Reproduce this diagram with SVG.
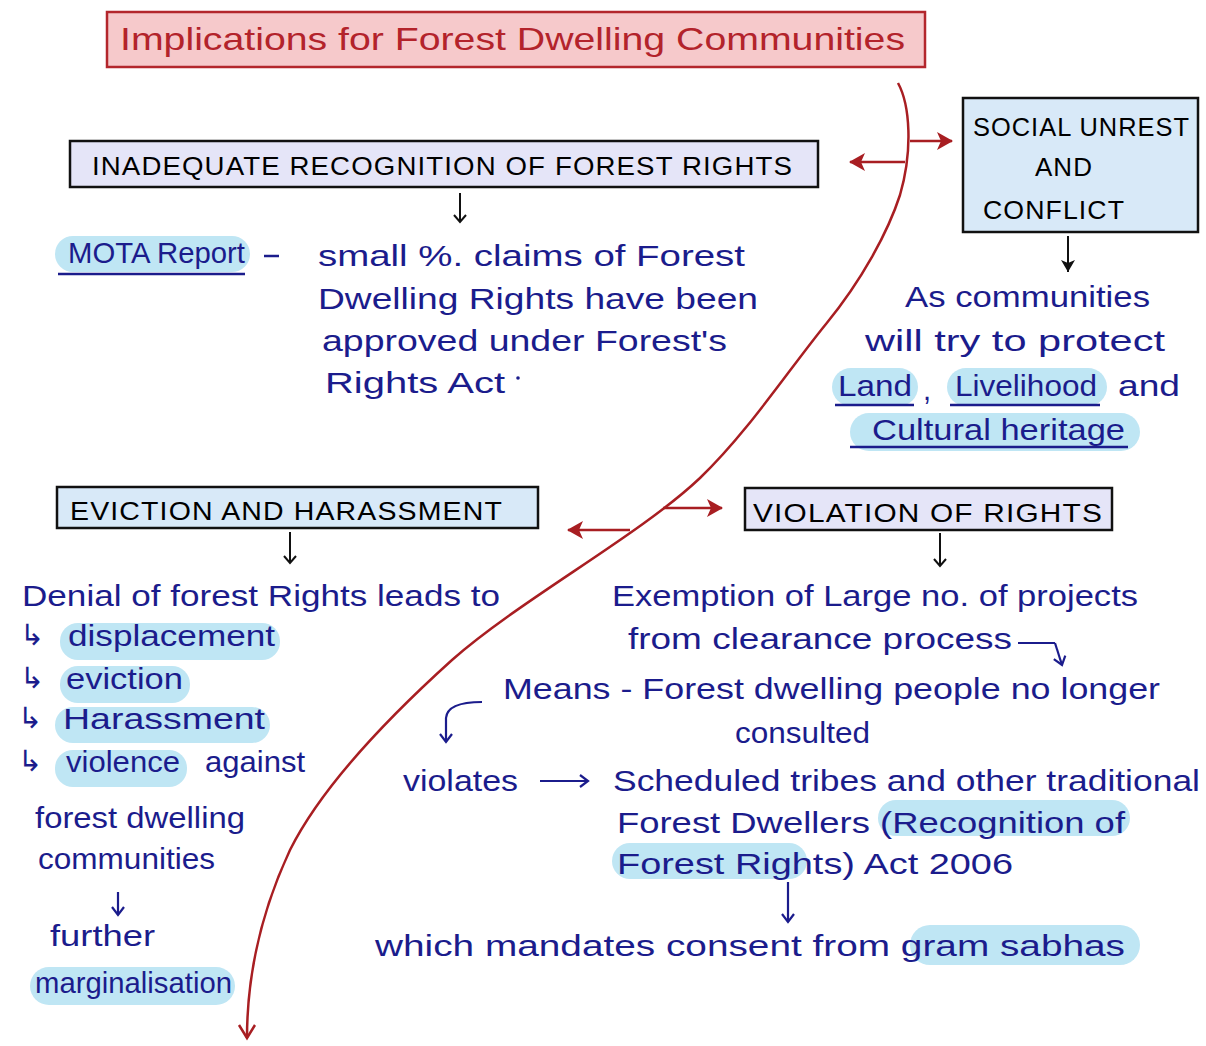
<svg xmlns="http://www.w3.org/2000/svg" width="1206" height="1046" viewBox="0 0 1206 1046">
  <style>
    .hdr { fill: #000; font-family: "Liberation Sans", "DejaVu Sans", sans-serif; font-size: 25px; letter-spacing: 1px; }
    .note { fill: #1b1c8c; font-family: "Liberation Sans", "DejaVu Sans", sans-serif; font-size: 29px; }
    .hl { fill: #bfe6f4; }
    .ul { stroke: #1b1c8c; stroke-width: 2.5; fill: none; }
    .blk { stroke: #111; stroke-width: 2; fill: none; }
    .ink { stroke: #1b1c8c; stroke-width: 2.2; fill: none; }
    .red { stroke: #a81e22; stroke-width: 2.5; fill: none; }
    .box { stroke: #111; stroke-width: 2.5; }
  </style>
  <defs>
    <!-- all arrowheads are drawn pointing along +x -->
    <marker id="vBlack" viewBox="0 0 14 14" refX="12" refY="7" markerWidth="14" markerHeight="14" markerUnits="userSpaceOnUse" orient="auto">
      <path d="M5,1 L12,7 L5,13" fill="none" stroke="#111" stroke-width="2"/>
    </marker>
    <marker id="vInk" viewBox="0 0 14 14" refX="12" refY="7" markerWidth="14" markerHeight="14" markerUnits="userSpaceOnUse" orient="auto">
      <path d="M4,1 L12,7 L4,13" fill="none" stroke="#1b1c8c" stroke-width="2.2"/>
    </marker>
    <marker id="vRed" viewBox="0 0 24 24" refX="20" refY="12" markerWidth="24" markerHeight="24" markerUnits="userSpaceOnUse" orient="auto">
      <path d="M7,4 L20,12 L7,20" fill="none" stroke="#a81e22" stroke-width="2.5"/>
    </marker>
    <marker id="redHead" viewBox="0 0 20 20" refX="17" refY="10" markerWidth="20" markerHeight="20" markerUnits="userSpaceOnUse" orient="auto">
      <path d="M2,1 L18,10 L2,19 L6,10 Z" fill="#a81e22"/>
    </marker>
    <marker id="blackHead" viewBox="0 0 16 16" refX="14" refY="8" markerWidth="16" markerHeight="16" markerUnits="userSpaceOnUse" orient="auto">
      <path d="M2,1 L14,8 L2,15 L5,8 Z" fill="#111"/>
    </marker>
  </defs>

  <rect width="1206" height="1046" fill="#ffffff"/>

  <!-- Title -->
  <g id="title">
    <rect x="107" y="12" width="818" height="55" fill="#f6c9cb" stroke="#b3262c" stroke-width="2.5"/>
    <text x="120" y="50" textLength="785" lengthAdjust="spacingAndGlyphs" fill="#b3232b" font-family="Liberation Sans, DejaVu Sans, sans-serif" font-size="32">Implications for Forest Dwelling Communities</text>
  </g>

  <!-- Connectors -->
  <g id="connectors">
    <!-- main red spine -->
    <path class="red" marker-end="url(#vRed)" d="M898,83 C910,105 913,150 900,195 C888,232 862,280 826,324 C790,368 748,432 700,478 C640,535 520,600 452,660 C380,725 320,790 290,850 C262,910 247,970 247,1038"/>
    <!-- branches off the spine -->
    <path class="red" marker-end="url(#redHead)" d="M910,141 L952,141"/>
    <path class="red" marker-end="url(#redHead)" d="M905,162 L850,162"/>
    <path class="red" marker-end="url(#redHead)" d="M663,508 L722,508"/>
    <path class="red" marker-end="url(#redHead)" d="M630,530 L568,530"/>

    <!-- header down arrows -->
    <path class="blk" marker-end="url(#vBlack)" d="M460,193 L460,222"/>
    <path class="blk" stroke-width="2.5" marker-end="url(#blackHead)" d="M1068,236 L1068,272"/>
    <path class="blk" marker-end="url(#vBlack)" d="M290,532 L290,563"/>
    <path class="blk" marker-end="url(#vBlack)" d="M940,533 L940,566"/>

    <!-- note arrows -->
    <path class="ink" marker-end="url(#vInk)" d="M118,892 L118,915"/>
    <path class="ink" marker-end="url(#vInk)" d="M788,882 L788,922"/>
    <path class="ink" d="M1018,643 L1055,643"/>
    <path class="ink" marker-end="url(#vInk)" d="M1055,643 L1062,665"/>
    <path class="ink" marker-end="url(#vInk)" d="M482,702 C465,702 447,705 446,718 L446,742"/>
    <path class="ink" marker-end="url(#vInk)" d="M540,781 L588,781"/>
  </g>

  <!-- Inadequate recognition -->
  <g id="inadequate-recognition">
    <rect class="box" x="70" y="141" width="748" height="46" fill="#e5e5f8"/>
    <text class="hdr" x="92" y="175" textLength="701" lengthAdjust="spacingAndGlyphs">INADEQUATE RECOGNITION OF FOREST RIGHTS</text>
  </g>

  <g id="mota-report">
    <rect class="hl" x="55" y="236" width="195" height="36" rx="18"/>
    <text class="note" x="68" y="263" font-size="26" textLength="177" lengthAdjust="spacingAndGlyphs">MOTA Report</text>
    <path class="ul" d="M58,274 L245,274"/>
    <path class="ul" d="M264,256 L279,256"/>
    <text class="note" x="318" y="266" textLength="427" lengthAdjust="spacingAndGlyphs">small %. claims of Forest</text>
    <text class="note" x="318" y="309" textLength="440" lengthAdjust="spacingAndGlyphs">Dwelling Rights have been</text>
    <text class="note" x="322" y="351" textLength="405" lengthAdjust="spacingAndGlyphs">approved under Forest's</text>
    <text class="note" x="325" y="393" textLength="180" lengthAdjust="spacingAndGlyphs">Rights Act</text>
    <circle cx="518" cy="378" r="1.8" fill="#1b1c8c"/>
  </g>

  <!-- Social unrest -->
  <g id="social-unrest">
    <rect class="box" x="963" y="98" width="235" height="134" fill="#d8e9f8"/>
    <text class="hdr" x="973" y="136" textLength="217" lengthAdjust="spacingAndGlyphs">SOCIAL UNREST</text>
    <text class="hdr" x="1035" y="176" textLength="58" lengthAdjust="spacingAndGlyphs">AND</text>
    <text class="hdr" x="983" y="219" textLength="142" lengthAdjust="spacingAndGlyphs">CONFLICT</text>
  </g>

  <g id="social-unrest-note">
    <rect class="hl" x="832" y="368" width="86" height="38" rx="19"/>
    <rect class="hl" x="947" y="368" width="160" height="38" rx="19"/>
    <rect class="hl" x="850" y="413" width="290" height="38" rx="19"/>
    <text class="note" x="905" y="307" textLength="245" lengthAdjust="spacingAndGlyphs">As communities</text>
    <text class="note" x="865" y="351" textLength="300" lengthAdjust="spacingAndGlyphs">will try to protect</text>
    <text class="note" x="838" y="396" textLength="74" lengthAdjust="spacingAndGlyphs">Land</text>
    <text class="note" x="923" y="400">,</text>
    <text class="note" x="955" y="396" textLength="142" lengthAdjust="spacingAndGlyphs">Livelihood</text>
    <text class="note" x="1118" y="396" textLength="62" lengthAdjust="spacingAndGlyphs">and</text>
    <text class="note" x="872" y="440" textLength="253" lengthAdjust="spacingAndGlyphs">Cultural heritage</text>
    <path class="ul" d="M835,405 L914,405"/>
    <path class="ul" d="M950,405 L1100,405"/>
    <path class="ul" d="M850,447 L1128,447"/>
  </g>

  <!-- Eviction and harassment -->
  <g id="eviction-harassment">
    <rect class="box" x="57" y="487" width="481" height="41" fill="#d8e9f8"/>
    <text class="hdr" x="70" y="520" font-size="24" textLength="433" lengthAdjust="spacingAndGlyphs">EVICTION AND HARASSMENT</text>
  </g>

  <g id="eviction-note">
    <rect class="hl" x="60" y="623" width="220" height="37" rx="18"/>
    <rect class="hl" x="60" y="666" width="130" height="37" rx="18"/>
    <rect class="hl" x="55" y="707" width="215" height="36" rx="18"/>
    <rect class="hl" x="55" y="750" width="132" height="37" rx="18"/>
    <rect class="hl" x="30" y="967" width="205" height="38" rx="19"/>
    <text class="note" x="22" y="606" textLength="478" lengthAdjust="spacingAndGlyphs">Denial of forest Rights leads to</text>
    <text class="note" x="20" y="645" font-family="DejaVu Sans, sans-serif" font-size="24">↳</text>
    <text class="note" x="68" y="646" textLength="207" lengthAdjust="spacingAndGlyphs">displacement</text>
    <text class="note" x="20" y="688" font-family="DejaVu Sans, sans-serif" font-size="24">↳</text>
    <text class="note" x="66" y="689" textLength="117" lengthAdjust="spacingAndGlyphs">eviction</text>
    <text class="note" x="18" y="728" font-family="DejaVu Sans, sans-serif" font-size="22">↳</text>
    <text class="note" x="63" y="729" textLength="202" lengthAdjust="spacingAndGlyphs">Harassment</text>
    <text class="note" x="18" y="771" font-family="DejaVu Sans, sans-serif" font-size="22">↳</text>
    <text class="note" x="66" y="772" textLength="114" lengthAdjust="spacingAndGlyphs">violence</text>
    <text class="note" x="205" y="772" textLength="100" lengthAdjust="spacingAndGlyphs">against</text>
    <text class="note" x="35" y="828" textLength="210" lengthAdjust="spacingAndGlyphs">forest dwelling</text>
    <text class="note" x="38" y="869" textLength="177" lengthAdjust="spacingAndGlyphs">communities</text>
    <text class="note" x="50" y="946" textLength="105" lengthAdjust="spacingAndGlyphs">further</text>
    <text class="note" x="35" y="993" textLength="197" lengthAdjust="spacingAndGlyphs">marginalisation</text>
  </g>

  <!-- Violation of rights -->
  <g id="violation-of-rights">
    <rect class="box" x="745" y="488" width="367" height="42" fill="#e5e5f8"/>
    <text class="hdr" x="753" y="522" textLength="350" lengthAdjust="spacingAndGlyphs">VIOLATION OF RIGHTS</text>
  </g>

  <g id="violation-note">
    <rect class="hl" x="878" y="800" width="252" height="36" rx="18"/>
    <rect class="hl" x="612" y="843" width="195" height="36" rx="18"/>
    <rect class="hl" x="910" y="925" width="230" height="40" rx="20"/>
    <text class="note" x="612" y="606" textLength="526" lengthAdjust="spacingAndGlyphs">Exemption of Large no. of projects</text>
    <text class="note" x="628" y="649" textLength="384" lengthAdjust="spacingAndGlyphs">from clearance process</text>
    <text class="note" x="503" y="699" textLength="657" lengthAdjust="spacingAndGlyphs">Means - Forest dwelling people no longer</text>
    <text class="note" x="735" y="743" textLength="135" lengthAdjust="spacingAndGlyphs">consulted</text>
    <text class="note" x="403" y="791" textLength="115" lengthAdjust="spacingAndGlyphs">violates</text>
    <text class="note" x="613" y="791" textLength="587" lengthAdjust="spacingAndGlyphs">Scheduled tribes and other traditional</text>
    <text class="note" x="617" y="833" textLength="508" lengthAdjust="spacingAndGlyphs">Forest Dwellers (Recognition of</text>
    <text class="note" x="617" y="874" textLength="396" lengthAdjust="spacingAndGlyphs">Forest Rights) Act 2006</text>
    <text class="note" x="375" y="956" textLength="750" lengthAdjust="spacingAndGlyphs">which mandates consent from gram sabhas</text>
  </g>
</svg>
